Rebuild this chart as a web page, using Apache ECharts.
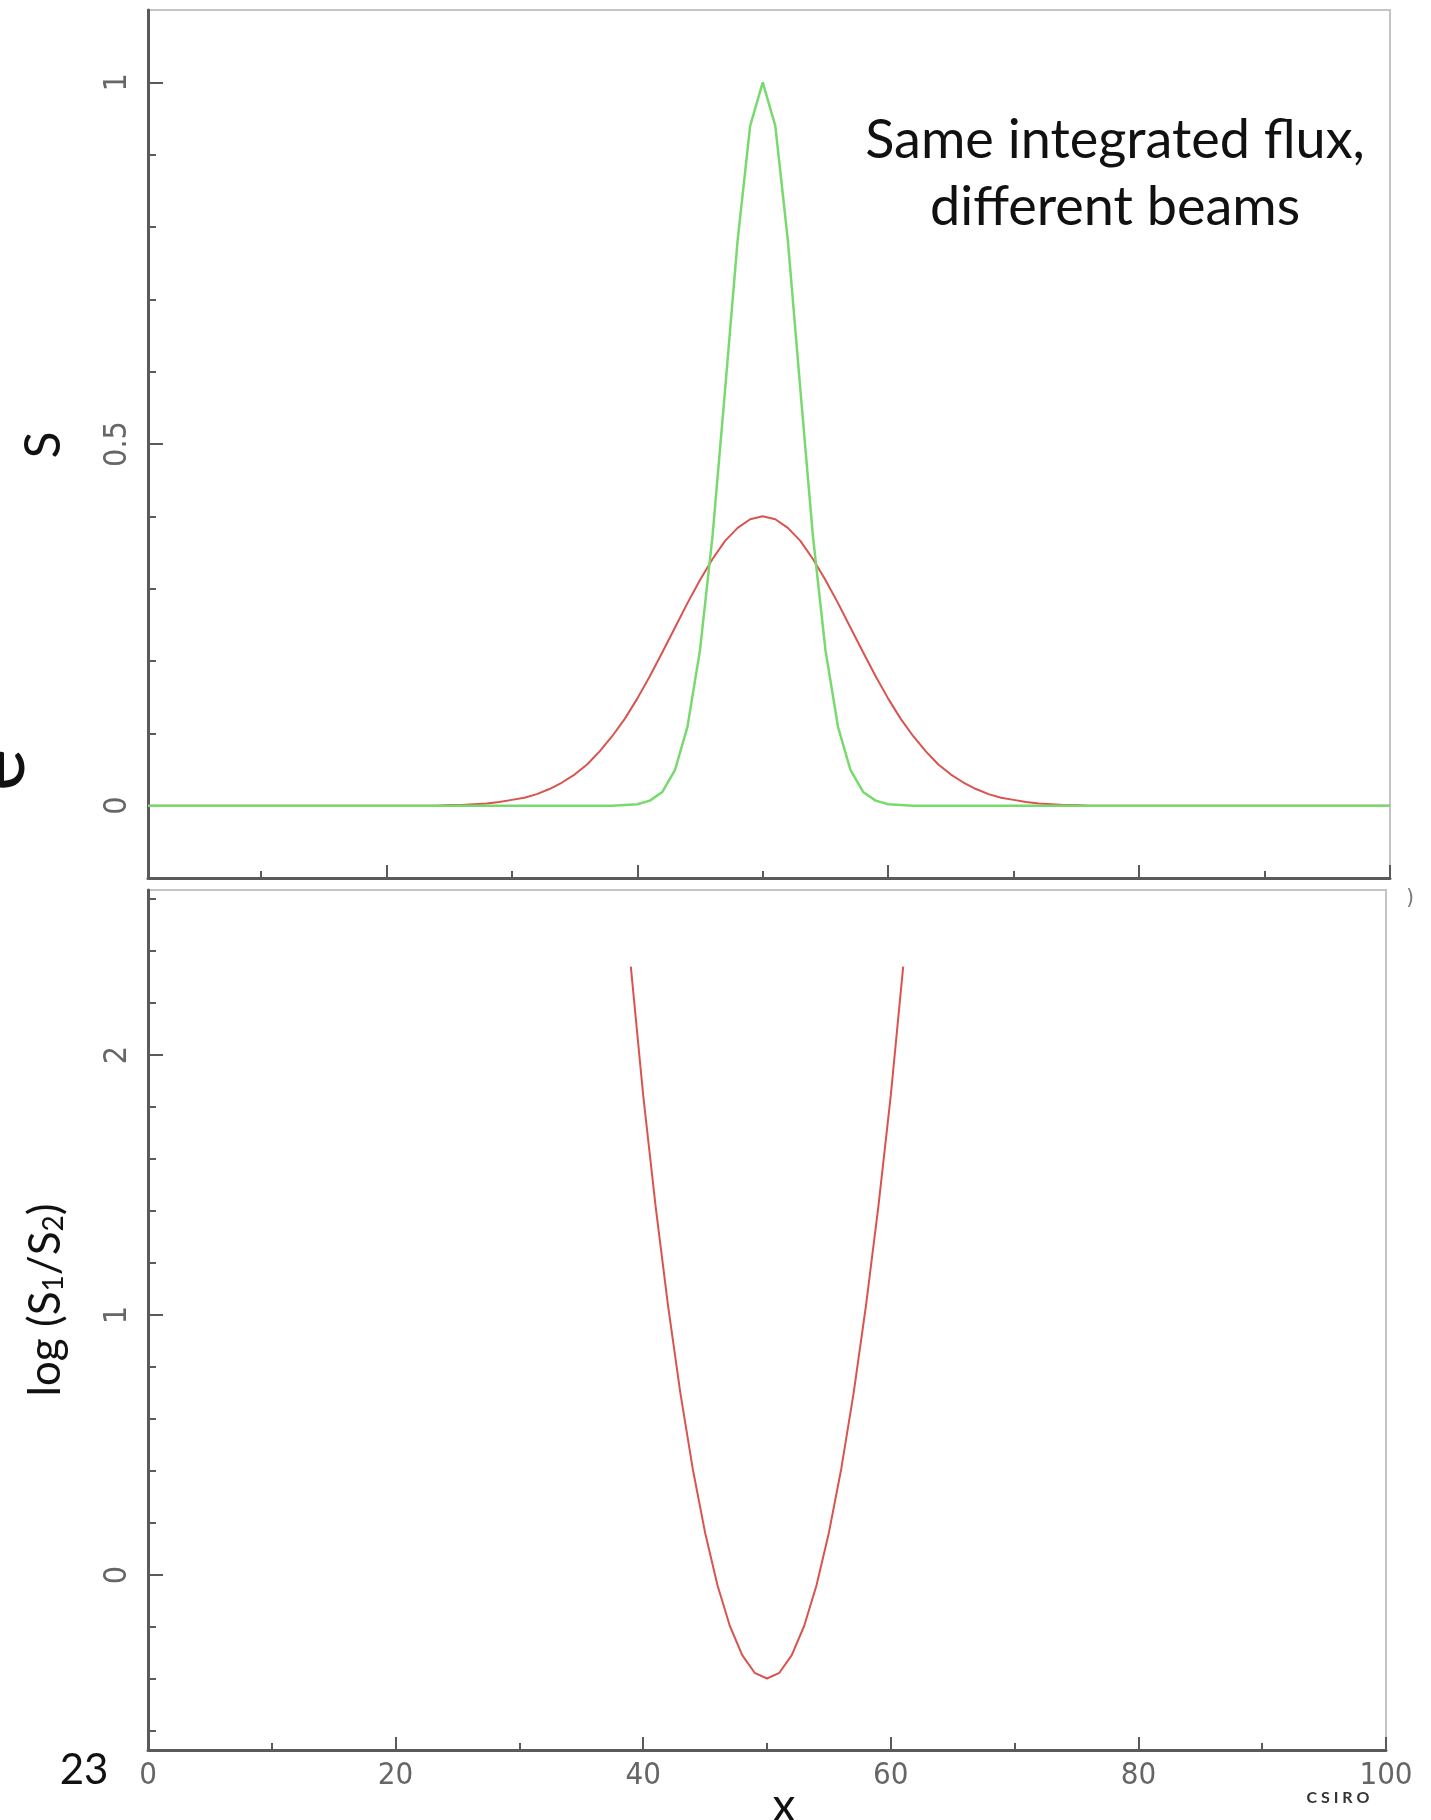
<!DOCTYPE html>
<html><head><meta charset="utf-8">
<script src="https://cdn.jsdelivr.net/npm/echarts@6/dist/echarts.min.js"></script>
<style>html,body{margin:0;padding:0;background:#fff;overflow:hidden}#c{width:1431px;height:1820px}</style>
</head><body><div id="c"></div>
<script>
// ---- data ----
// top panel: S(x) for the broad (red) and narrow (green) beams
const redX = [1,24,25,26,27,28,29,30,31,32,33,34,35,36,37,38,39,40,41,42,43,44,45,46,47,48,49,50,51,52,53,54,55,56,57,58,59,60,61,62,63,64,65,66,67,68,69,70,71,72,73,74,75,76,100];
const redS = [0,0.000,0.001,0.001,0.002,0.003,0.005,0.008,0.011,0.016,0.023,0.032,0.043,0.057,0.075,0.096,0.120,0.148,0.179,0.212,0.246,0.280,0.312,0.341,0.366,0.384,0.396,0.400,0.396,0.384,0.366,0.341,0.312,0.280,0.246,0.212,0.179,0.148,0.120,0.096,0.075,0.057,0.043,0.032,0.023,0.016,0.011,0.008,0.005,0.003,0.002,0.001,0.001,0.000,0];
const greenX = [1,38,39,40,41,42,43,44,45,46,47,48,49,50,51,52,53,54,55,56,57,58,59,60,61,62,100];
const greenS = [0,0.000,0.001,0.002,0.007,0.019,0.049,0.109,0.215,0.373,0.575,0.782,0.940,1.000,0.940,0.782,0.575,0.373,0.215,0.109,0.049,0.019,0.007,0.002,0.001,0.000,0];
// bottom panel: log(S1/S2)
const ratioX = [39,40,41,42,43,44,45,46,47,48,49,50,51,52,53,54,55,56,57,58,59,60,61];
const logRatio = [2.34,1.845,1.419,1.038,0.701,0.409,0.163,-0.039,-0.196,-0.308,-0.376,-0.398,-0.376,-0.308,-0.196,-0.039,0.163,0.409,0.701,1.038,1.419,1.845,2.34];
// ticks / labels
const topXMajor = [20,40,60,80,100];
const topXMinor = [10,30,50,70,90];
const topYMajor = [0,0.5,1];
const topYMinor = [0.1,0.2,0.3,0.4,0.6,0.7,0.8,0.9];
const botYMajor = [0,1,2];
const botYMinor = [-0.6,-0.4,-0.2,0.2,0.4,0.6,0.8,1.2,1.4,1.6,1.8,2.2,2.4,2.6];

const pair = (xs, ys) => xs.map((x, i) => [x, ys[i]]);

const AX = '#5a5a5a';
const tickFont = "'Liberation Sans Narrow','DejaVu Sans Condensed','Liberation Sans',sans-serif";
const slideFont = "Lato, 'Open Sans', sans-serif";

const chart = echarts.init(document.getElementById('c'), null, {renderer: 'canvas'});

function xAx(grid, min, max, opts) {
  return Object.assign({
    type: 'value', gridIndex: grid, min: min, max: max, position: 'bottom',
    splitLine: {show: false},
    axisLine: {show: true, onZero: false, lineStyle: {color: AX, width: 3}},
    axisLabel: {show: false}
  }, opts);
}
function yAx(grid, min, max, opts) {
  return Object.assign({
    type: 'value', gridIndex: grid, min: min, max: max, position: 'left',
    splitLine: {show: false},
    axisLine: {show: true, onZero: false, lineStyle: {color: AX, width: 3}},
    axisLabel: {show: false}
  }, opts);
}

const option = {
  backgroundColor: '#fff',
  animation: false,
  grid: [
    {left: 148, top: 10, width: 1242, height: 868, show: true, borderColor: '#c4c4c4', borderWidth: 2, backgroundColor: 'transparent'},
    {left: 148, top: 890, width: 1238, height: 860, show: true, borderColor: '#c4c4c4', borderWidth: 2, backgroundColor: 'transparent'}
  ],
  xAxis: [
    xAx(0, 1, 100, {axisTick: {show: true, inside: true, length: 13, customValues: topXMajor, lineStyle: {color: AX, width: 2}}}),
    xAx(0, 1, 100, {axisLine: {show: false, onZero: false}, axisTick: {show: true, inside: true, length: 7, customValues: topXMinor, lineStyle: {color: AX, width: 2}}}),
    xAx(1, 0, 100, {interval: 20,
      axisTick: {show: true, inside: true, length: 13, lineStyle: {color: AX, width: 2}},
      minorTick: {show: true, splitNumber: 2, length: 7, lineStyle: {color: AX, width: 2}},
      axisLabel: {show: true, margin: 10, color: '#666', fontSize: 31, fontFamily: tickFont}})
  ],
  yAxis: [
    yAx(0, -0.1, 1.1, {
      axisTick: {show: true, inside: true, length: 15, customValues: topYMajor, lineStyle: {color: AX, width: 2}},
      axisLabel: {show: true, customValues: topYMajor, rotate: 90, margin: 14, color: '#666', fontSize: 32, fontFamily: tickFont}}),
    yAx(0, -0.1, 1.1, {axisLine: {show: false, onZero: false},
      axisTick: {show: true, inside: true, length: 8, customValues: topYMinor, lineStyle: {color: AX, width: 2}}}),
    yAx(1, -0.673, 2.635, {
      axisTick: {show: true, inside: true, length: 15, customValues: botYMajor, lineStyle: {color: AX, width: 2}},
      axisLabel: {show: true, customValues: botYMajor, rotate: 90, margin: 14, color: '#666', fontSize: 32, fontFamily: tickFont}}),
    yAx(1, -0.673, 2.635, {axisLine: {show: false, onZero: false},
      axisTick: {show: true, inside: true, length: 8, customValues: botYMinor, lineStyle: {color: AX, width: 2}}})
  ],
  series: [
    {type: 'line', xAxisIndex: 0, yAxisIndex: 0, data: pair(redX, redS), showSymbol: false, smooth: false,
      lineStyle: {color: '#d9534f', width: 2}, itemStyle: {color: '#d9534f'}},
    {type: 'line', xAxisIndex: 0, yAxisIndex: 0, data: pair(greenX, greenS), showSymbol: false, smooth: false,
      lineStyle: {color: '#78da6e', width: 2.5}, itemStyle: {color: '#78da6e'}},
    {type: 'line', xAxisIndex: 2, yAxisIndex: 2, data: pair(ratioX, logRatio), showSymbol: false, smooth: false,
      lineStyle: {color: '#d9534f', width: 2}, itemStyle: {color: '#d9534f'}}
  ],
  graphic: [
    {type: 'text', x: 1115, y: 141, style: {text: 'Same integrated flux,', fill: '#111', font: '54px ' + slideFont, align: 'center', verticalAlign: 'middle'}},
    {type: 'text', x: 1115, y: 208, style: {text: 'different beams', fill: '#111', font: '54px ' + slideFont, align: 'center', verticalAlign: 'middle'}},
    {type: 'text', x: 44, y: 445, rotation: Math.PI / 2, style: {text: 'S', fill: '#111', font: '50px ' + slideFont, align: 'center', verticalAlign: 'middle'}},
    {type: 'text', x: 46, y: 1300, rotation: Math.PI / 2, style: {
      text: 'log (S{s|1}/S{s|2})', fill: '#111', font: '44px ' + slideFont, align: 'center', verticalAlign: 'middle',
      rich: {s: {fontSize: 28, fontFamily: slideFont, fill: '#111', verticalAlign: 'bottom', padding: [14, 0, 0, 0]}}}},
    {type: 'text', x: -2, y: 770, rotation: Math.PI / 2, style: {text: 'e', fill: '#111', font: '80px ' + slideFont, align: 'center', verticalAlign: 'middle'}},
    {type: 'text', x: 84, y: 1770, style: {text: '23', fill: '#111', font: '42px ' + slideFont, align: 'center', verticalAlign: 'middle'}},
    {type: 'text', x: 784, y: 1806, style: {text: 'x', fill: '#111', font: '46px ' + slideFont, align: 'center', verticalAlign: 'middle'}},
    {type: 'text', x: 1338, y: 1798, style: {text: 'C S I R O', fill: '#333', font: 'bold 16px ' + slideFont, align: 'center', verticalAlign: 'middle'}},
    {type: 'text', x: 1410, y: 898, style: {text: ')', fill: '#777', font: '22px ' + tickFont, align: 'center', verticalAlign: 'middle'}}
  ]
};
chart.setOption(option);
</script></body></html>
